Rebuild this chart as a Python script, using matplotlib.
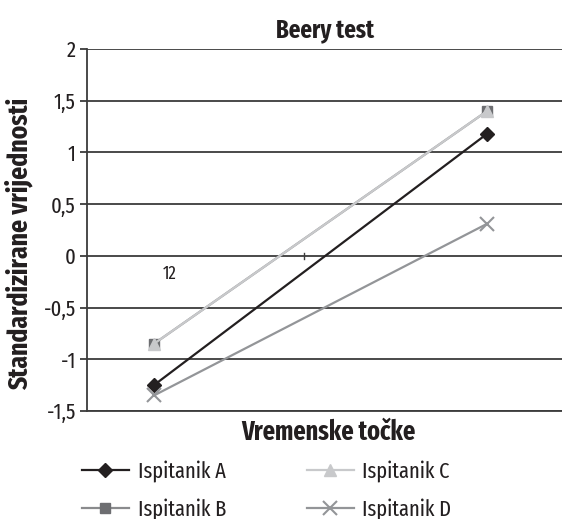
import matplotlib
matplotlib.use("Agg")
import matplotlib.pyplot as plt
from matplotlib import font_manager

names = {f.name for f in font_manager.fontManager.ttflist}
fam = "Fira Sans Extra Condensed" if "Fira Sans Extra Condensed" in names else "DejaVu Sans"
plt.rcParams['font.family'] = [fam, 'DejaVu Sans']

categories = [0, 1]
series_names = ["Ispitanik A", "Ispitanik B", "Ispitanik C", "Ispitanik D"]
vals_A = [-1.25, 1.18]
vals_B = [-0.85, 1.40]
vals_C = [-0.85, 1.40]
vals_D = [-1.35, 0.31]
yticks = [-1.5, -1, -0.5, 0, 0.5, 1, 1.5, 2]
ytick_labels = ["-1,5", "-1", "-0,5", "0", "0,5", "1", "1,5", "2"]

fig = plt.figure(figsize=(5.62, 5.19), dpi=100)
ax = fig.add_axes([87/562, 1-411/519, 1-87/562, (411-49)/519])

styles = [
    dict(color="#231f20", marker="D", ms=7, mfc="#231f20", mec="#231f20", lw=1.6),
    dict(color="#8a8b8d", marker="s", ms=7, mfc="#6d6e71", mec="#6d6e71", lw=1.6),
    dict(color="#c8c9cb", marker="^", ms=8, mfc="#c8c9cb", mec="#c8c9cb", lw=1.6),
    dict(color="#939598", marker="x", ms=10, mew=1.5, lw=1.6),
]
handles = []
for name, vals, st in zip(series_names, [vals_A, vals_B, vals_C, vals_D], styles):
    h, = ax.plot(categories, vals, label=name, **st)
    handles.append(h)

ax.set_xlim(-0.201, 1.225)
ax.set_ylim(-1.5, 2)
ax.set_yticks(yticks)
ax.set_yticklabels(ytick_labels, fontsize=16, color="#231f20")
ax.set_xticks([])
ax.yaxis.grid(True, color="#3c3c3c", lw=1.3)
ax.set_axisbelow(True)
for s in ["top", "right"]:
    ax.spines[s].set_visible(False)
for s in ["left", "bottom"]:
    ax.spines[s].set_color("#3c3c3c")
    ax.spines[s].set_linewidth(1.3)
ax.tick_params(axis="y", length=5, width=1.3, color="#3c3c3c", pad=3)

# small category tick and stray label
ax.plot([0.45, 0.45], [-0.03, 0.03], color="#3c3c3c", lw=1)
ax.text(0.048, -0.17, "12", fontsize=13, ha="center", va="center", color="#231f20")

fig.text(325/562, 1-31/519, "Beery test", fontsize=18, fontweight="bold", ha="center", va="center", color="#231f20")
fig.text(19/562, 1-244/519, "Standardizirane vrijednosti", fontsize=20, fontweight="bold", rotation=90, ha="center", va="center", color="#231f20")
fig.text(328/562, 1-432/519, "Vremenske točke", fontsize=19, fontweight="bold", ha="center", va="center", color="#231f20")

leg = fig.legend(handles=handles, ncol=2, loc="center left", bbox_to_anchor=(82/562, 1-490/519),
                 frameon=False, fontsize=16, handlelength=2.1, handletextpad=0.4,
                 columnspacing=3.65, labelspacing=0.7, borderpad=0, borderaxespad=0)
for t in leg.get_texts():
    t.set_color("#231f20")

fig.savefig("out.png", dpi=100)
